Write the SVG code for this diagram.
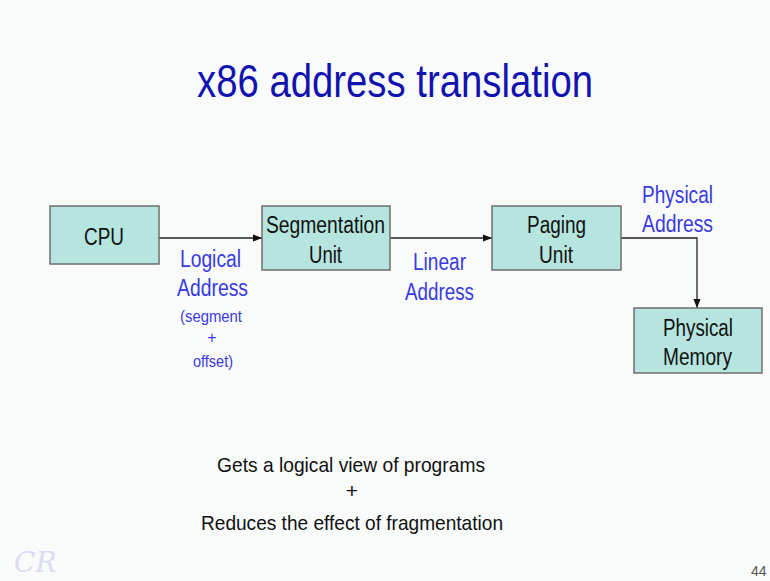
<svg xmlns="http://www.w3.org/2000/svg" width="770" height="581" viewBox="0 0 770 581">
<defs>
<marker id="arr" viewBox="0 0 10 10" refX="10" refY="5" markerWidth="9" markerHeight="9" markerUnits="userSpaceOnUse" orient="auto">
<path d="M0,1 L10,5 L0,9 Z" fill="#111"/>
</marker>
<style>
.box{fill:#b5e5de;stroke:#6e6e6e;stroke-width:1.5}
.bt{font-family:"Liberation Sans",Arial,sans-serif;font-size:23px;fill:#111;text-anchor:middle}
.lb{font-family:"Liberation Sans",Arial,sans-serif;font-size:23px;fill:#3a3ae0;text-anchor:middle}
.sm{font-family:"Liberation Sans",Arial,sans-serif;font-size:16px;fill:#3a3ae0;text-anchor:middle}
.bot{font-family:"Liberation Sans",Arial,sans-serif;font-size:21px;fill:#111;text-anchor:middle}
.conn{fill:none;stroke:#222;stroke-width:1.3}
</style>
</defs>
<rect width="770" height="581" fill="#f8fbf9"/>
<text x="395" y="97" font-family="Liberation Sans,Arial,sans-serif" font-size="47" fill="#1212b0" text-anchor="middle" textLength="396" lengthAdjust="spacingAndGlyphs">x86 address translation</text>
<g id="connectors">
<line class="conn" x1="159" y1="238" x2="262" y2="238" marker-end="url(#arr)"/>
<line class="conn" x1="390" y1="238" x2="492" y2="238" marker-end="url(#arr)"/>
<polyline class="conn" points="621,238 697,238 697,308" marker-end="url(#arr)"/>
</g>
<g id="cpu">
<rect class="box" x="50" y="206" width="109" height="58"/>
<text class="bt" x="104" y="244.5" textLength="40" lengthAdjust="spacingAndGlyphs">CPU</text>
</g>
<g id="segmentation">
<rect class="box" x="262" y="206" width="128" height="64"/>
<text class="bt" x="325.5" y="232.5" textLength="119" lengthAdjust="spacingAndGlyphs">Segmentation</text>
<text class="bt" x="325.5" y="262.5" textLength="33" lengthAdjust="spacingAndGlyphs">Unit</text>
</g>
<g id="paging">
<rect class="box" x="492" y="206" width="129" height="64"/>
<text class="bt" x="556.5" y="232.5" textLength="59" lengthAdjust="spacingAndGlyphs">Paging</text>
<text class="bt" x="556" y="262.5" textLength="34" lengthAdjust="spacingAndGlyphs">Unit</text>
</g>
<g id="memory">
<rect class="box" x="634" y="308" width="128" height="65"/>
<text class="bt" x="698" y="335.5" textLength="70" lengthAdjust="spacingAndGlyphs">Physical</text>
<text class="bt" x="697.5" y="364.5" textLength="69" lengthAdjust="spacingAndGlyphs">Memory</text>
</g>
<g id="labels">
<text class="lb" x="210.5" y="266.5" textLength="61" lengthAdjust="spacingAndGlyphs">Logical</text>
<text class="lb" x="212.5" y="296" textLength="71" lengthAdjust="spacingAndGlyphs">Address</text>
<text class="sm" x="211" y="321.5" textLength="62" lengthAdjust="spacingAndGlyphs">(segment</text>
<text class="sm" x="212" y="343">+</text>
<text class="sm" x="213" y="367" textLength="40" lengthAdjust="spacingAndGlyphs">offset)</text>
<text class="lb" x="439.5" y="270" textLength="53" lengthAdjust="spacingAndGlyphs">Linear</text>
<text class="lb" x="439.5" y="300" textLength="69" lengthAdjust="spacingAndGlyphs">Address</text>
<text class="lb" x="677.5" y="203" textLength="71" lengthAdjust="spacingAndGlyphs">Physical</text>
<text class="lb" x="677.5" y="231.5" textLength="71" lengthAdjust="spacingAndGlyphs">Address</text>
</g>
<g id="notes">
<text class="bot" x="351" y="472" textLength="268" lengthAdjust="spacingAndGlyphs">Gets a logical view of programs</text>
<text class="bot" x="352" y="498">+</text>
<text class="bot" x="352" y="530" textLength="302" lengthAdjust="spacingAndGlyphs">Reduces the effect of fragmentation</text>
</g>
<text x="14" y="572" font-family="DejaVu Serif,serif" font-style="italic" font-size="28" fill="#dcdcf2">CR</text>
<text x="751" y="576" font-family="Liberation Sans,Arial,sans-serif" font-size="14" fill="#555">44</text>
</svg>
